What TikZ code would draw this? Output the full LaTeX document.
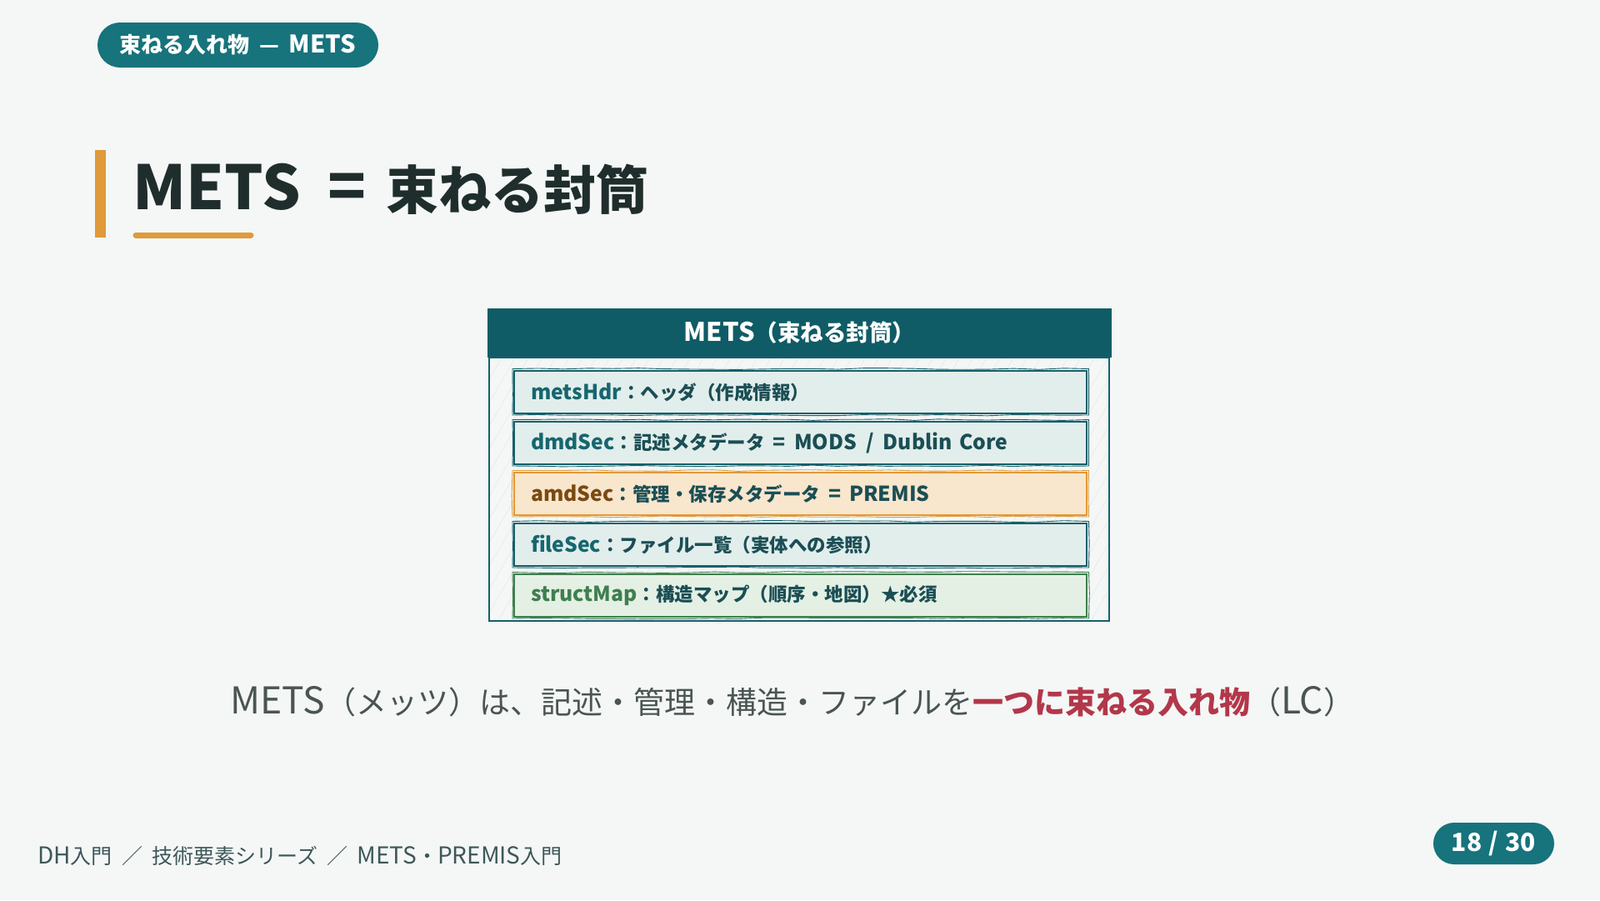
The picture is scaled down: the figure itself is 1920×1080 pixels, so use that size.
\documentclass[tikz,border=0pt]{standalone}
\usepackage{fontspec}
\setmainfont{Noto Sans CJK JP}
\usetikzlibrary{positioning, patterns.meta, decorations.pathmorphing}
\definecolor{bgcol}{HTML}{F4F7F6}
\definecolor{tagteal}{HTML}{17737C}
\definecolor{headteal}{HTML}{0F5C66}
\definecolor{inkdark}{HTML}{1F2E2C}
\definecolor{amber}{HTML}{E09A3A}
\definecolor{rowfill}{HTML}{E2EEEC}
\definecolor{rowline}{HTML}{14606A}
\definecolor{rowteal}{HTML}{17666F}
\definecolor{rowtext}{HTML}{1B4E55}
\definecolor{amdfill}{HTML}{F8E6CD}
\definecolor{amdlabel}{HTML}{7A4A12}
\definecolor{leaf}{HTML}{3F7F4F}
\definecolor{leaffill}{HTML}{E4F0E4}
\definecolor{hatch}{HTML}{E3E8E7}
\definecolor{cheer}{HTML}{B3374A}
\definecolor{captext}{HTML}{4A5553}
\definecolor{foottext}{HTML}{3E5759}
% latin runs are set a little larger than the kana
\newcommand{\lat}[2][1.1]{\scalebox{#1}{#2}}
\newcommand{\gap}{\hspace{0.45em}}

\begin{document}
\begin{tikzpicture}[x=1pt, y=-1pt]
\tikzstyle{pill} = [rectangle, fill=tagteal, text=white, inner sep=0pt, font=\bfseries\fontsize{26}{30}\selectfont]
\tikzstyle{section} = [rectangle, draw=rowline, line width=2pt, fill=rowfill, minimum height=51pt, text width=647pt, inner xsep=20pt, inner ysep=0pt, align=left, text=rowtext, font=\bfseries\fontsize{22.5}{26}\selectfont]
\tikzstyle{rough} = [decorate, decoration={random steps, segment length=30pt, amplitude=0.9pt}, line width=0.9pt]

% Page background
\fill[bgcol] (0,0) rectangle (1920,1080);
\useasboundingbox (0,0) rectangle (1920,1080);

% Series tag
\node (tag) [pill, minimum width=337pt, minimum height=54pt, rounded corners=27pt] at (285.5,54) {束ねる入れ物\gap{}—\gap{}\lat[1.12]{METS}};

% Title with accent bar
\fill[amber] (114,180) rectangle (127,285);
\node (title) [anchor=base west, inner sep=0pt, text=inkdark, font=\bfseries\fontsize{63}{70}\selectfont] at (159,251) {\lat[1.16]{METS}\hspace{33pt}\lat[1.2]{=}\hspace{24pt}束ねる封筒};
\draw[amber, line width=7pt, line cap=round] (163,282) -- (301,282);

% Envelope
\fill[headteal] (585,370) rectangle (1334,429);
\node (head) [text=white, font=\bfseries\fontsize{27.5}{32}\selectfont] at (959.5,399.5) {\lat[1.12]{METS}（束ねる封筒）};
\draw[rowline, line width=2.5pt, pattern={Lines[angle=60, distance=14pt, line width=0.5pt]}, pattern color=hatch] (587,429) rectangle (1331,745);

% Sections
\node (hdr) [section, anchor=north west] at (616,444) {{\color{rowteal}\lat{metsHdr}}：ヘッダ（作成情報）};
\node (dmd) [section, below=8pt of hdr] {{\color{rowteal}\lat{dmdSec}}：記述メタデータ\gap{}\lat{=}\gap{}\lat{MODS\gap{}/\gap{}Dublin Core}};
\node (amd) [section, below=8pt of dmd, draw=amber, fill=amdfill] {{\color{amdlabel}\lat{amdSec}}：管理・保存メタデータ\gap{}\lat{=}\gap{}\lat{PREMIS}};
\node (file) [section, below=8pt of amd] {{\color{rowteal}\lat{fileSec}}：ファイル一覧（実体への参照）};
\node (smap) [section, below=8pt of file, draw=leaf, fill=leaffill] {{\color{leaf}\lat{structMap}}：構造マップ（順序・地図）★必須};

% Hand-drawn second strokes
\foreach \sec/\ink in {hdr/rowline, dmd/rowline, amd/amber, file/rowline, smap/leaf} {
    \draw[rough, \ink] ([shift={(-1pt,1.5pt)}]\sec.north west) rectangle ([shift={(1.5pt,-1pt)}]\sec.south east);
}

% Caption
\node (caption) [text=captext, font=\fontsize{37}{40}\selectfont] at (951,842) {\lat[1.2]{METS}（メッツ）は、記述・管理・構造・ファイルを{\color{cheer}\bfseries 一つに束ねる入れ物}（\lat[1.2]{LC}）};

% Footer
\node (footer) [anchor=west, inner sep=0pt, text=foottext, font=\fontsize{25}{30}\selectfont] at (45,1027) {\lat[1.12]{DH}入門\gap{}／\gap{}技術要素シリーズ\gap{}／\gap{}\lat[1.12]{METS}・\lat[1.12]{PREMIS}入門};
\node (page) [pill, minimum width=145pt, minimum height=50pt, rounded corners=25pt, font=\bfseries\fontsize{30}{34}\selectfont] at (1792.5,1012) {18\hspace{0.28em}/\hspace{0.28em}30};

\end{tikzpicture}
\end{document}
